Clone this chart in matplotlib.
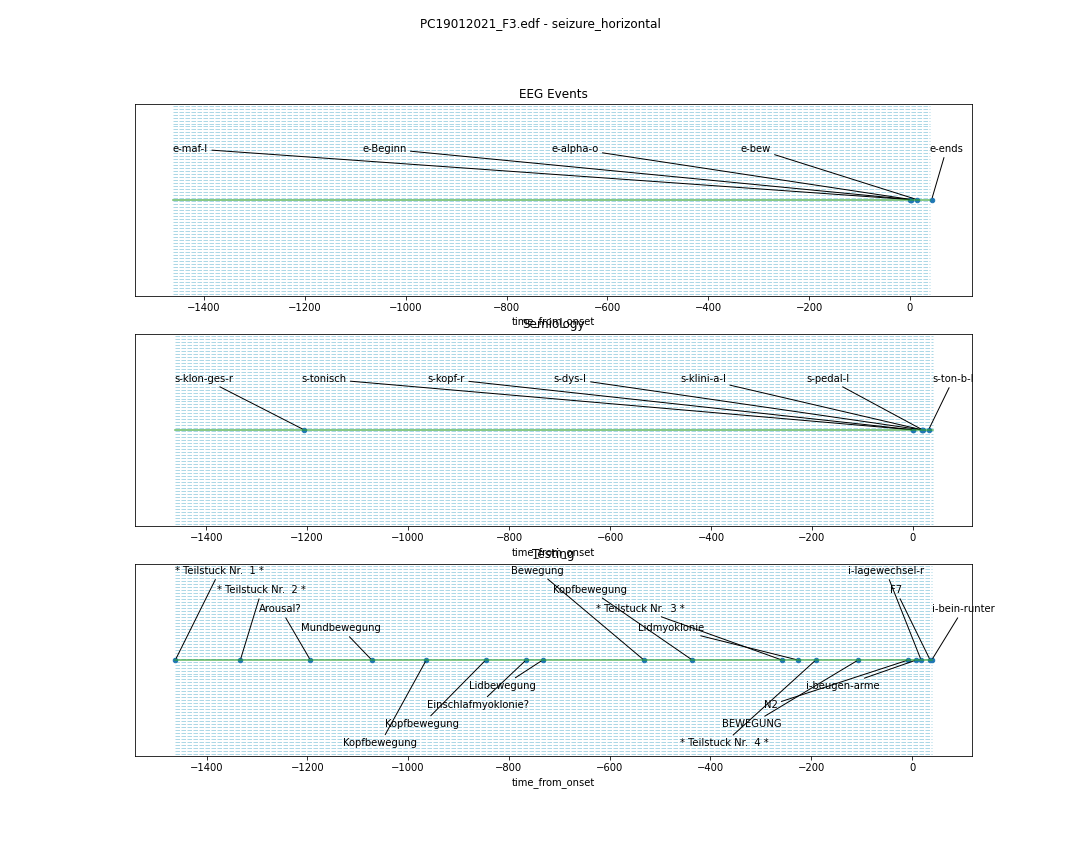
import numpy as np
import matplotlib
matplotlib.use('Agg')
import matplotlib.pyplot as plt

# time span covered by the recording (seconds from onset)
span_start = -1462
span_end = 39

eeg_labels = ['e-maf-l', 'e-Beginn', 'e-alpha-o', 'e-bew', 'e-ends']
eeg_times = [1, 2, 3, 14, 43]
eeg_levels = [0.5, 0.5, 0.5, 0.5, 0.5]

sem_labels = ['s-klon-ges-r', 's-tonisch', 's-kopf-r', 's-dys-l',
              's-klini-a-l', 's-pedal-l', 's-ton-b-l']
sem_times = [-1206, 0, 1, 17, 18, 19, 31]
sem_levels = [0.5, 0.5, 0.5, 0.5, 0.5, 0.5, 0.5]

test_labels = ['* Teilstuck Nr.  1 *', '* Teilstuck Nr.  2 *', 'Arousal?',
               'Mundbewegung', 'Kopfbewegung', 'Kopfbewegung',
               'Einschlafmyoklonie?', 'Lidbewegung', 'Bewegung',
               'Kopfbewegung', '* Teilstuck Nr.  3 *', 'Lidmyoklonie',
               '* Teilstuck Nr.  4 *', 'BEWEGUNG', 'N2', 'i-beugen-arme',
               'i-lagewechsel-r', 'F7', 'i-bein-runter']
test_times = [-1462, -1333, -1194, -1072, -964, -846, -766, -733, -532,
              -436, -258, -226, -191, -107, -8, 8, 18, 36, 39]
test_levels = [0.9, 0.7, 0.5, 0.3, -0.9, -0.7, -0.5, -0.3,
               0.9, 0.7, 0.5, 0.3, -0.9, -0.7, -0.5, -0.3,
               0.9, 0.7, 0.5]

panel_titles = ['EEG Events', 'Semiology', 'Testing']
panel_xlims = [(-1537, 123), (-1541, 117), (-1542, 119)]


def plot_timeline(ax, labels, times, levels, title, xlim):
    # light dashed background rows over the recording span
    ax.hlines(np.linspace(-0.98, 0.98, 64), span_start, span_end,
              color='lightblue', linestyle=(0, (4.5, 1.5)), linewidth=1)
    ax.plot(times, np.zeros(len(times)), 'o', color='tab:blue',
            markersize=4.5, zorder=3)
    ax.plot([span_start, span_end], [0, 0], color='tab:green',
            alpha=0.75, linewidth=1.5, zorder=4)

    text_x = np.linspace(span_start, span_end, len(labels))
    for lab, t, lev, tx in zip(labels, times, levels, text_x):
        ax.annotate(lab, xy=(t, 0), xytext=(tx, lev),
                    arrowprops=dict(arrowstyle='-', color='k', linewidth=1))

    ax.set_ylim(-1, 1)
    ax.set_xlim(*xlim)
    ax.set_yticks([])
    ax.set_title(title)
    ax.set_xlabel('time_from_onset')


fig, axes = plt.subplots(3, 1, figsize=(15, 12), dpi=72)
fig.subplots_adjust(top=0.88, bottom=0.125, hspace=0.2)

plot_timeline(axes[0], eeg_labels, eeg_times, eeg_levels,
              panel_titles[0], panel_xlims[0])
plot_timeline(axes[1], sem_labels, sem_times, sem_levels,
              panel_titles[1], panel_xlims[1])
plot_timeline(axes[2], test_labels, test_times, test_levels,
              panel_titles[2], panel_xlims[2])

fig.suptitle('PC19012021_F3.edf - seizure_horizontal')
fig.savefig('out.png', dpi=72)
